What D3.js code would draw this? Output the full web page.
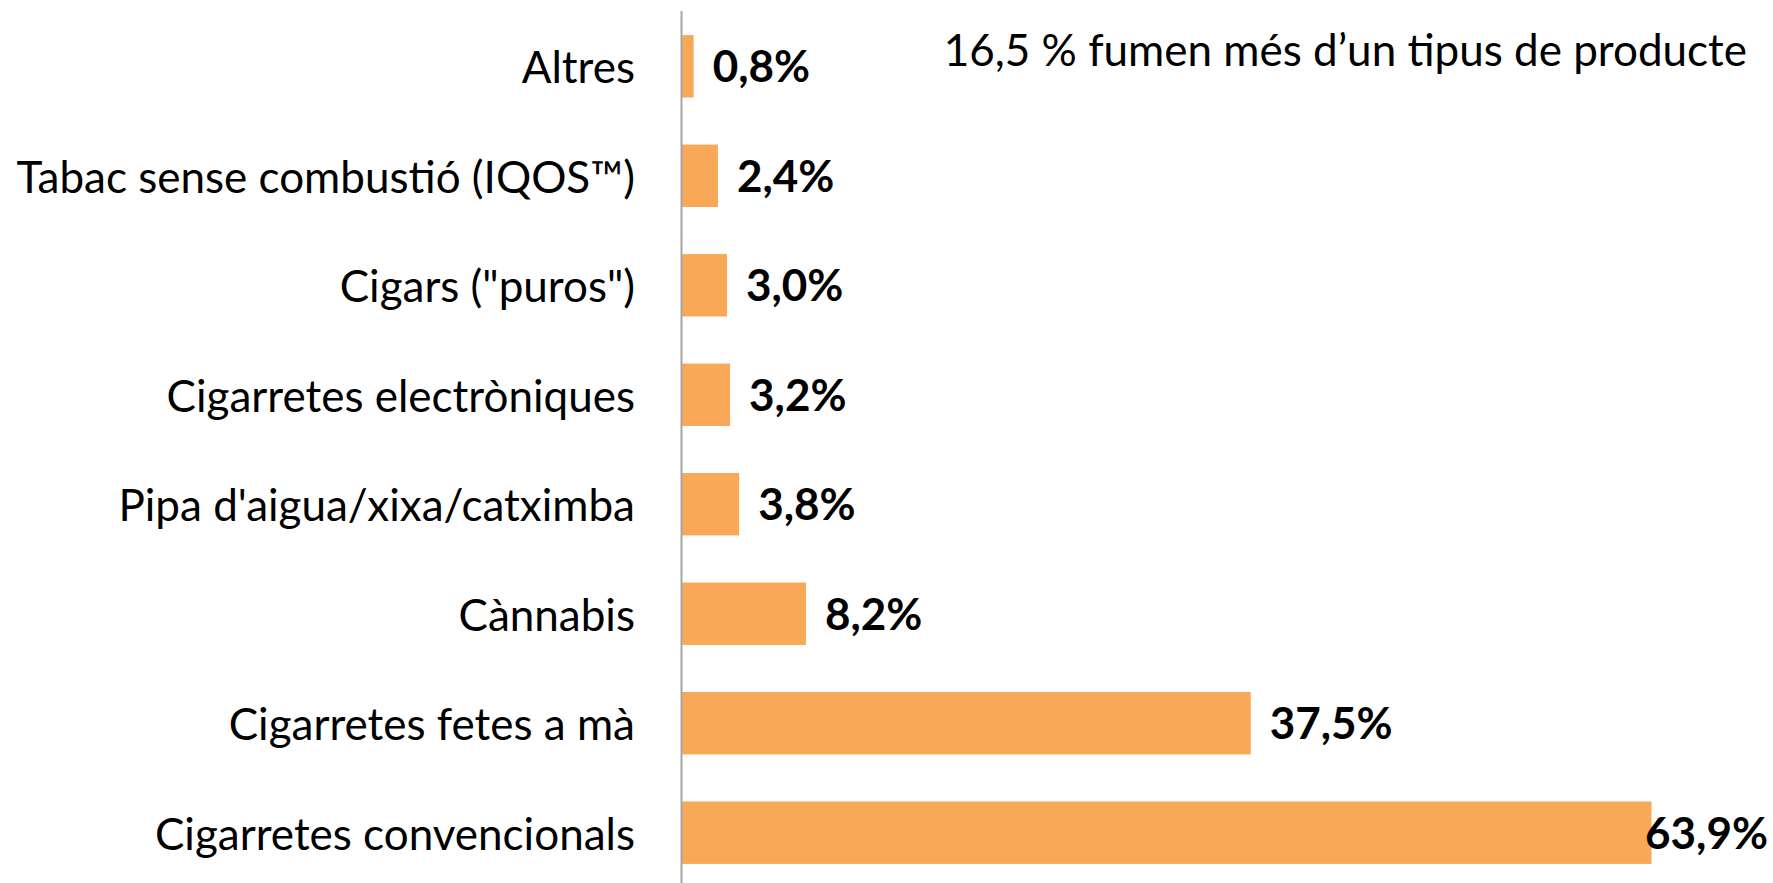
<!DOCTYPE html>
<html>
<head>
<meta charset="utf-8">
<script src="https://cdn.jsdelivr.net/npm/d3@7"></script>
<style>
  body { margin: 0; background: #fff; }
  svg { display: block; font-family: Lato, 'Open Sans', sans-serif; }
  .label { fill: #000; font-size: 44px; }
  .barlabel { font-weight: bold; }
</style>
</head>
<body>
<div id="chart"></div>
<script>
const categories = [
  'Altres',
  'Tabac sense combustió (IQOS™)',
  'Cigars ("puros")',
  'Cigarretes electròniques',
  "Pipa d'aigua/xixa/catximba",
  'Cànnabis',
  'Cigarretes fetes a mà',
  'Cigarretes convencionals',
];
const values = [0.8, 2.4, 3.0, 3.2, 3.8, 8.2, 37.5, 63.9];
const note = '16,5 % fumen més d’un tipus de producte';

const width = 1773;
const height = 883;
const margin = { top: 11, right: 5, bottom: -5, left: 681.5 };

const svg = d3.select('#chart').append('svg')
  .attr('width', width)
  .attr('height', height);

const data = categories.map((c, i) => ({ category: c, value: values[i] }));

const y = d3.scaleBand()
  .domain(categories)
  .range([margin.top, height - margin.bottom])
  .paddingInner(0.43)
  .paddingOuter(0.22);

const x = d3.scaleLinear()
  .domain([0, 70])
  .range([margin.left, margin.left + 70 * 15.18]);

const fmt = v => `${v.toFixed(1).replace('.', ',')}%`;

svg.selectAll('.bar')
  .data(data)
  .enter().append('rect')
  .attr('class', 'bar')
  .attr('fill', '#f9a857')
  .attr('x', x(0))
  .attr('y', d => y(d.category))
  .attr('width', d => x(d.value) - x(0))
  .attr('height', y.bandwidth());

// vertical category axis, no ticks
svg.append('line')
  .attr('x1', x(0)).attr('x2', x(0))
  .attr('y1', margin.top).attr('y2', height)
  .attr('stroke', '#a6a6a6')
  .attr('stroke-width', 2);

svg.selectAll('.typelabel')
  .data(data)
  .enter().append('text')
  .attr('class', 'label typelabel')
  .attr('text-anchor', 'end')
  .attr('x', 635)
  .attr('y', d => y(d.category) + y.bandwidth() / 2 + 17)
  .text(d => d.category);

// value labels; the last one gets pushed back inside the frame
const maxRight = 1768;
svg.selectAll('.barlabel')
  .data(data)
  .enter().append('text')
  .attr('class', 'label barlabel')
  .attr('y', d => y(d.category) + y.bandwidth() / 2 + 16)
  .text(d => fmt(d.value))
  .attr('x', function(d) {
    const w = this.getComputedTextLength();
    return Math.min(x(d.value) + 19, maxRight - w);
  });

svg.append('text')
  .attr('class', 'label')
  .attr('text-anchor', 'end')
  .attr('x', 1747)
  .attr('y', 66)
  .text(note);
</script>
</body>
</html>
